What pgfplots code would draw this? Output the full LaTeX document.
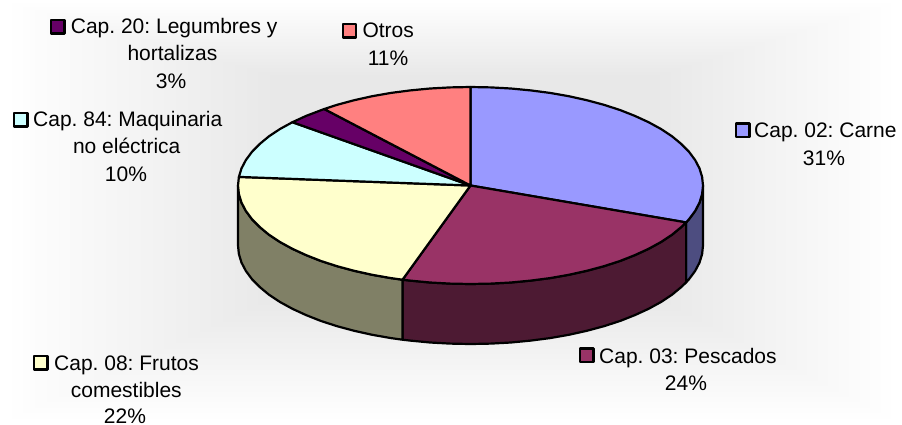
\documentclass[border=0pt]{standalone}
\usepackage{pgfplots}
\pgfplotsset{compat=1.18}
\usepackage{fontspec}
\setmainfont{Liberation Sans}
\frenchspacing
\definecolor{cCarne}{HTML}{9999FF}
\definecolor{cPesc}{HTML}{993366}
\definecolor{cFrut}{HTML}{FFFFCC}
\definecolor{cMaq}{HTML}{CCFFFF}
\definecolor{cLeg}{HTML}{660066}
\definecolor{cOtr}{HTML}{FF8080}
\definecolor{wCarne}{HTML}{4D4D80}
\definecolor{wPesc}{HTML}{4D1A33}
\definecolor{wFrut}{HTML}{808066}
\newcommand{\lab}[4]{\node[anchor=#1,inner sep=0pt,text=black,font=\fontsize{21}{24}\selectfont] at (axis cs:#2,#3) {#4};}
\begin{document}
\begin{tikzpicture}[x=1pt,y=1pt]
% soft background of the plot area
\foreach \k in {0,...,23}{
  \pgfmathsetmacro{\xa}{270*\k/23}
  \pgfmathsetmacro{\xb}{902-242*\k/23}
  \pgfmathsetmacro{\ya}{424-75*\k/23}
  \pgfmathsetmacro{\yb}{124*\k/23}
  \pgfmathsetmacro{\g}{1-0.09*\k/23}
  \definecolor{bgc}{gray}{\g}
  \fill[bgc] (\xa,\yb) rectangle (\xb,\ya);
}
\begin{axis}[
  at={(0pt,0pt)},anchor=south west,
  width=902pt,height=424pt,scale only axis,
  xmin=0,xmax=902,ymin=0,ymax=424,y dir=reverse,
  hide axis,clip=false,
  every axis plot/.append style={no markers,draw=black,line width=2.2pt,line join=round,solid},
]
% walls
\addplot[fill=wCarne] coordinates {(703.0,185.5)(702.1,194.1)(699.5,202.6)(695.1,211.0)(689.0,219.2)(686.1,222.4)
 (686.1,282.4)(689.0,279.2)(695.1,271.0)(699.5,262.6)(702.1,254.1)(703.0,245.5)} --cycle;
\addplot[fill=wPesc] coordinates {(686.1,222.4)(681.2,227.1)(671.9,234.8)(661.0,242.0)(648.6,248.8)(634.9,255.1)(620.0,261.0)(603.9,266.2)(586.8,270.8)(568.8,274.8)(550.0,278.1)(530.7,280.6)(510.9,282.5)(490.8,283.6)(470.5,284.0)(450.2,283.6)(430.1,282.5)(410.3,280.6)(402.5,279.7)
 (402.5,339.7)(410.3,340.6)(430.1,342.5)(450.2,343.6)(470.5,344.0)(490.8,343.6)(510.9,342.5)(530.7,340.6)(550.0,338.1)(568.8,334.8)(586.8,330.8)(603.9,326.2)(620.0,321.0)(634.9,315.1)(648.6,308.8)(661.0,302.0)(671.9,294.8)(681.2,287.1)(686.1,282.4)} --cycle;
\addplot[fill=wFrut] coordinates {(402.5,279.7)(391.0,278.1)(372.2,274.8)(354.2,270.8)(337.1,266.2)(321.0,261.0)(306.1,255.1)(292.4,248.8)(280.0,242.0)(269.1,234.8)(259.8,227.1)(252.0,219.2)(245.9,211.0)(241.5,202.6)(238.9,194.1)(238.0,185.5)
 (238.0,245.5)(238.9,254.1)(241.5,262.6)(245.9,271.0)(252.0,279.2)(259.8,287.1)(269.1,294.8)(280.0,302.0)(292.4,308.8)(306.1,315.1)(321.0,321.0)(337.1,326.2)(354.2,330.8)(372.2,334.8)(391.0,338.1)(402.5,339.7)} --cycle;
% top slices
\addplot[fill=cCarne] coordinates {(470.5,185.5)(470.5,87.0)(490.8,87.4)(510.9,88.5)(530.7,90.4)(550.0,92.9)(568.8,96.2)(586.8,100.2)(603.9,104.8)(620.0,110.0)(634.9,115.9)(648.6,122.2)(661.0,129.0)(671.9,136.2)(681.2,143.9)(689.0,151.8)(695.1,160.0)(699.5,168.4)(702.1,176.9)(703.0,185.5)(702.1,194.1)(699.5,202.6)(695.1,211.0)(689.0,219.2)(686.1,222.4)} --cycle;
\addplot[fill=cPesc] coordinates {(470.5,185.5)(686.1,222.4)(681.2,227.1)(671.9,234.8)(661.0,242.0)(648.6,248.8)(634.9,255.1)(620.0,261.0)(603.9,266.2)(586.8,270.8)(568.8,274.8)(550.0,278.1)(530.7,280.6)(510.9,282.5)(490.8,283.6)(470.5,284.0)(450.2,283.6)(430.1,282.5)(410.3,280.6)(402.5,279.7)} --cycle;
\addplot[fill=cFrut] coordinates {(470.5,185.5)(402.5,279.7)(391.0,278.1)(372.2,274.8)(354.2,270.8)(337.1,266.2)(321.0,261.0)(306.1,255.1)(292.4,248.8)(280.0,242.0)(269.1,234.8)(259.8,227.1)(252.0,219.2)(245.9,211.0)(241.5,202.6)(238.9,194.1)(238.0,185.5)(238.9,176.9)} --cycle;
\addplot[fill=cMaq] coordinates {(470.5,185.5)(238.9,176.9)(241.5,168.4)(245.9,160.0)(252.0,151.8)(259.8,143.9)(269.1,136.2)(280.0,129.0)(292.4,122.2)} --cycle;
\addplot[fill=cLeg] coordinates {(470.5,185.5)(292.4,122.2)(306.1,115.9)(324.2,109.0)} --cycle;
\addplot[fill=cOtr] coordinates {(470.5,185.5)(324.2,109.0)(337.1,104.8)(354.2,100.2)(372.2,96.2)(391.0,92.9)(410.3,90.4)(430.1,88.5)(450.2,87.4)(470.5,87.0)} --cycle;
% legend keys
\addplot[fill=cCarne] coordinates {(736,123.5)(749.5,123.5)(749.5,137)(736,137)} --cycle;
\addplot[fill=cPesc] coordinates {(580,348.5)(593.5,348.5)(593.5,362)(580,362)} --cycle;
\addplot[fill=cFrut] coordinates {(34,356)(47.5,356)(47.5,369.5)(34,369.5)} --cycle;
\addplot[fill=cMaq] coordinates {(14,113)(27.5,113)(27.5,126.5)(14,126.5)} --cycle;
\addplot[fill=cLeg] coordinates {(51,20)(64.5,20)(64.5,33.5)(51,33.5)} --cycle;
\addplot[fill=cOtr] coordinates {(343,24)(356,24)(356,37.5)(343,37.5)} --cycle;
% labels
\lab{base west}{754}{137.4}{Cap. 02: Carne}
\lab{base}{824}{165}{31\%}
\lab{base west}{599}{363}{Cap. 03: Pescados}
\lab{base}{686}{390.7}{24\%}
\lab{base west}{54}{370}{Cap. 08: Frutos}
\lab{base}{126.3}{397.4}{comestibles}
\lab{base}{125}{423}{22\%}
\lab{base west}{33}{126.7}{Cap. 84: Maquinaria}
\lab{base}{126.7}{153.4}{no eléctrica}
\lab{base}{126}{181.7}{10\%}
\lab{base west}{70.7}{33.4}{Cap. 20: Legumbres y}
\lab{base}{172.5}{60.7}{hortalizas}
\lab{base}{171}{88.4}{3\%}
\lab{base west}{362.3}{37.4}{Otros}
\lab{base}{388}{65}{11\%}
\end{axis}
\end{tikzpicture}
\end{document}
